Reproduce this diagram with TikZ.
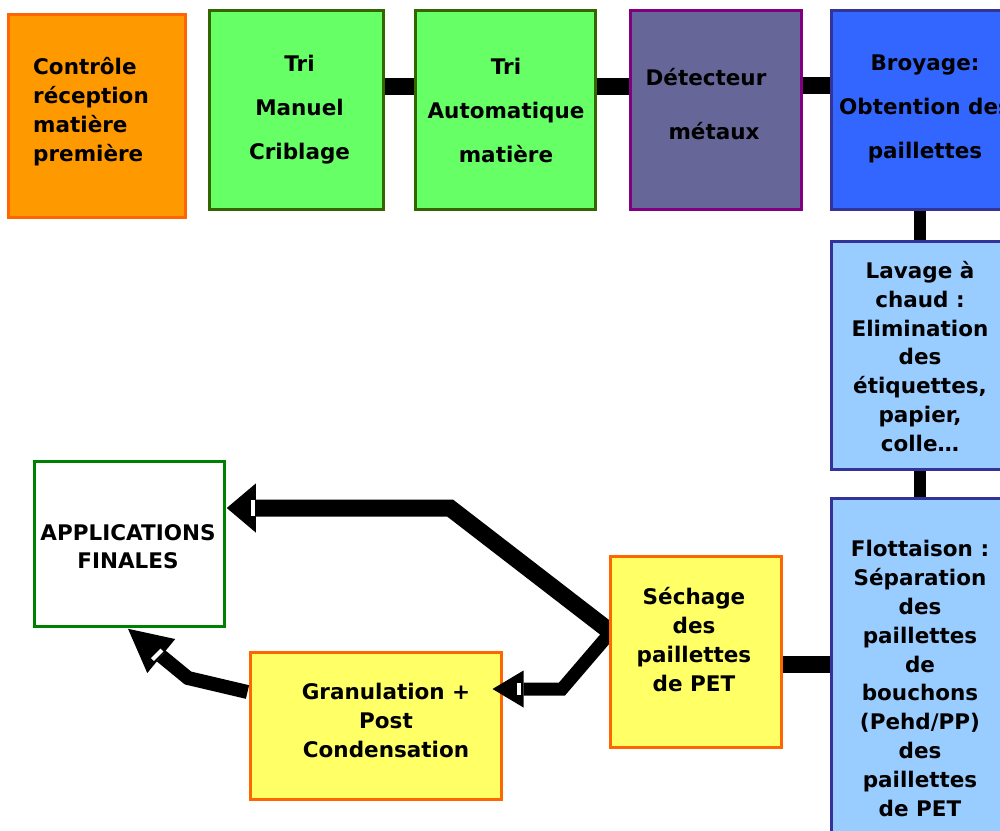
\documentclass[tikz,border=0pt]{standalone}
\usepackage{fontspec}
\setmainfont{DejaVu Sans}
\usetikzlibrary{arrows.meta}
\pgfdeclarelayer{bg}
\pgfdeclarelayer{fg}
\pgfsetlayers{bg,main,fg}
\definecolor{cOrange}{HTML}{FF9900}
\definecolor{cOrangeB}{HTML}{FF6600}
\definecolor{cGreen}{HTML}{66FF66}
\definecolor{cGreenB}{HTML}{336600}
\definecolor{cViolet}{HTML}{666699}
\definecolor{cVioletB}{HTML}{800080}
\definecolor{cBlue}{HTML}{3366FF}
\definecolor{cBlueB}{HTML}{333399}
\definecolor{cLight}{HTML}{99CCFF}
\definecolor{cYellow}{HTML}{FFFF66}
\definecolor{cAppB}{HTML}{008000}
\begin{document}
\begin{tikzpicture}[x=1pt,y=-1pt,
  box/.style={draw, line width=3pt, inner sep=0pt},
  lbl/.style={font=\fontsize{21.5}{29}\selectfont\bfseries, align=center, inner sep=0pt},
  lblwide/.style={font=\fontsize{21.5}{44}\selectfont\bfseries, align=center, inner sep=0pt},
  lbltight/.style={font=\fontsize{21.5}{28.8}\selectfont\bfseries, align=center, inner sep=0pt},
  hconn/.style={line width=17pt, black},
  vconn/.style={line width=12pt, black},
  bigarrow/.style={black, line join=miter}
]
\useasboundingbox (0,0) rectangle (1000,830);
\clip (0,0) rectangle (1000,830);

% boxes
\node[box, fill=cOrange, draw=cOrangeB, minimum width=177pt, minimum height=203pt] (ctrl) at (97,116) {};
\node[box, fill=cGreen, draw=cGreenB, minimum width=174pt, minimum height=199pt] (tri1) at (296.5,110) {};
\node[box, fill=cGreen, draw=cGreenB, minimum width=180pt, minimum height=199pt] (tri2) at (505.5,110) {};
\node[box, fill=cViolet, draw=cVioletB, minimum width=171pt, minimum height=199pt] (det) at (716,110) {};
\node[box, fill=cBlue, draw=cBlueB, minimum width=176pt, minimum height=199pt] (broy) at (919.5,110) {};
\node[box, fill=cLight, draw=cBlueB, minimum width=176pt, minimum height=228pt] (lav) at (919.5,355.5) {};
\node[box, fill=cLight, draw=cBlueB, minimum width=176pt, minimum height=360pt] (flot) at (919.5,678.5) {};
\node[box, fill=cYellow, draw=cOrangeB, minimum width=251pt, minimum height=147pt] (gran) at (376,726) {};
\node[box, fill=white, draw=cAppB, line width=2.5pt, minimum width=190pt, minimum height=165pt] (apps) at (129.5,544) {};
\begin{pgfonlayer}{fg}
\node[box, fill=cYellow, draw=cOrangeB, minimum width=171pt, minimum height=191pt] (sech) at (696,652) {};
\node[lbl] (tsech) at (694,640) {Séchage\\des\\paillettes\\de PET};
\end{pgfonlayer}

% texts
\node[lbl, align=left, anchor=west] (tctrl) at (33,112) {Contrôle\\réception\\matière\\première};
\node[lblwide] (ttri1) at (299.5,110) {Tri\\Manuel\\Criblage};
\node[lblwide] (ttri2) at (506,110) {Tri\\Automatique\\matière};
\node[lbl] (tdet1) at (706,77) {Détecteur};
\node[lbl] (tdet2) at (714,131) {métaux};
\node[lblwide] (tbroy) at (925,109) {Broyage:\\Obtention des\\paillettes};
\node[lbltight] (tlav) at (920,356.5) {Lavage à\\chaud :\\Elimination\\des\\étiquettes,\\papier,\\colle…};
\node[lbltight] (tflot) at (920,678.5) {Flottaison :\\Séparation\\des\\paillettes\\de\\bouchons\\(Pehd/PP)\\des\\paillettes\\de PET};
\node[lbl] (tgran) at (386,720) {Granulation +\\Post\\Condensation};
\node[font=\fontsize{21.5}{28}\selectfont\bfseries, align=center, inner sep=0pt] (tapps) at (128,547) {APPLICATIONS\\FINALES};

% plain connectors
\begin{pgfonlayer}{bg}
\draw[hconn] ([yshift=24pt]tri1.east) -- ([yshift=24pt]tri2.west);
\draw[hconn] ([yshift=24pt]tri2.east) -- ([yshift=24pt]det.west);
\draw[hconn] ([yshift=25pt]det.east) -- ([yshift=25pt]broy.west);
\draw[vconn] (broy.south) -- (lav.north);
\draw[vconn] (lav.south) -- (flot.north);
\draw[hconn] ([yshift=-12pt]sech.east) -- ([yshift=-12pt]sech.east -| flot.west);
\end{pgfonlayer}

% arrows
\coordinate (sA) at (625,643);
\coordinate (bA) at (450,508);
\coordinate (sB) at (622,619);
\coordinate (bB) at (562,689);
\coordinate (bC) at (188,678);
\draw[bigarrow, line width=17pt, -{Triangle[length=29pt,width=49pt,line width=0pt]}]
  (sA) -- (bA) -- ([xshift=1pt,yshift=36pt]apps.east);
\draw[bigarrow, line width=13pt, -{Triangle[length=31pt,width=37pt,line width=0pt]}]
  (sB) -- (bB) -- ([xshift=-10.5pt,yshift=37pt]gran.east);
\draw[bigarrow, line width=14pt, -{Triangle[length=43pt,width=44pt,line width=0pt]}]
  ([xshift=-1.5pt,yshift=34pt]gran.west) -- (bC) -- ([xshift=-1.5pt,yshift=-1pt]apps.south);
% small white marks at arrow bases
\fill[white] (251,500) rectangle (255,516);
\fill[white] (517,683) rectangle (521,695);
\draw[white, line width=4pt] (152.5,659.5) -- (162,650);
\end{tikzpicture}
\end{document}
